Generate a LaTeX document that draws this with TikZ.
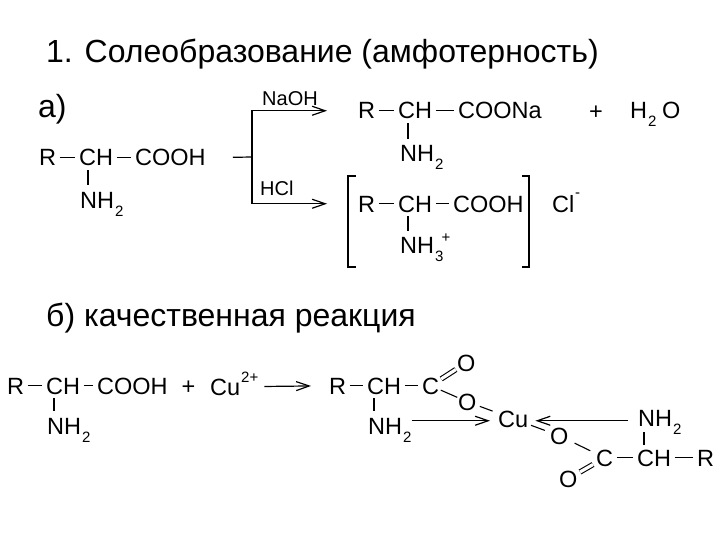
\documentclass[tikz,border=0pt]{standalone}
\usepackage{fontspec}
\setmainfont{Liberation Sans}
\usetikzlibrary{arrows.meta}
\tikzset{>={Straight Barb[length=13pt,width=9pt]}}
\tikzset{chem/.style={inner sep=0pt,anchor=base west,text height=16.5pt,text depth=0pt,font=\fontsize{23.5}{23.5}\selectfont}}
\tikzset{small/.style={inner sep=0pt,anchor=base west,font=\fontsize{15}{15}\selectfont}}
\tikzset{lbl/.style={inner sep=0pt,anchor=base west,font=\fontsize{20}{20}\selectfont}}
\tikzset{head/.style={inner sep=0pt,anchor=base west,font=\fontsize{32}{32}\selectfont}}
\tikzset{bond/.style={line width=1.1pt,shorten <=3.5pt,shorten >=4.5pt}}
\tikzset{vbond/.style={line width=1.1pt,shorten <=4pt,shorten >=6.5pt}}
\tikzset{rxn/.style={line width=1.2pt,->}}
\newcommand{\subn}[1]{\hspace{1pt}\raisebox{-8pt}{\fontsize{15}{15}\selectfont #1}}

\begin{document}
\begin{tikzpicture}[x=1pt,y=-1pt]
    \useasboundingbox (0,0) rectangle (720,540);
    %headings
    \node[head] (title) at (46,63) {1. Солеобразование (амфотерность)};
    \node[head] (parta) at (38,118) {а)};
    \node[head] (partb) at (46,326) {б) качественная реакция};

    %starting acid, part a
    \node[chem] (r1) at (39,166) {R};
    \node[chem] (ch1) at (79,166) {CH};
    \node[chem] (cooh1) at (135,166) {COOH};
    \node[chem] (nh1) at (80,208) {NH\subn{2}};
    \coordinate (fork) at (252,157);

    %sodium salt
    \node[chem] (r2) at (358,119) {R};
    \node[chem] (ch2) at (398,119) {CH};
    \node[chem] (cooh2) at (458,119) {COONa};
    \node[chem] (nh2) at (400,162) {NH\subn{2}};
    \node[chem] (plus2) at (589,120) {+};
    \node[chem] (water) at (630,119) {H\subn{2}\hspace{5.5pt}O};
    \node[lbl] (naoh) at (262,106) {NaOH};

    %chloride
    \node[chem] (r3) at (358,212) {R};
    \node[chem] (ch3) at (398,212) {CH};
    \node[chem] (cooh3) at (453,212) {COOH};
    \node[chem] (nh3) at (400,254) {NH\subn{3}};
    \node[small] (nhplus) at (441.5,242) {+};
    \node[chem] (cl) at (552,212) {Cl};
    \node[small] (clminus) at (575,197.5) {-};
    \node[lbl] (hcl) at (260,196) {HCl};

    %starting acid, part b
    \node[chem] (r4) at (7,394) {R};
    \node[chem] (ch4) at (46,394) {CH};
    \node[chem] (cooh4) at (97,394) {COOH};
    \node[chem] (nh4) at (47,434) {NH\subn{2}};
    \node[chem] (plus4) at (181.5,394.5) {+};
    \node[chem] (cu4) at (210,395) {Cu};
    \node[small] (cucharge) at (241,382) {2+};

    %complex
    \node[chem] (r5) at (329,394) {R};
    \node[chem] (ch5) at (367,394) {CH};
    \node[chem] (c5) at (422,394) {C};
    \node[chem] (odbl5) at (457,371) {O};
    \node[chem] (o5) at (458,410) {O};
    \node[chem] (nh5) at (368,434) {NH\subn{2}};
    \node[chem] (cu5) at (498,427) {Cu};
    \node[chem] (o6) at (550,444) {O};
    \node[chem] (c6) at (596,466) {C};
    \node[chem] (odbl6) at (559,487) {O};
    \node[chem] (ch6) at (637,466) {CH};
    \node[chem] (r6) at (697,466) {R};
    \node[chem] (nh6) at (638,426) {NH\subn{2}};

    %bonds
    \foreach \from/\to in {r1/ch1, ch1/cooh1, r2/ch2, ch2/cooh2, r3/ch3, ch3/cooh3, r4/ch4, ch4/cooh4, r5/ch5, ch5/c5, c6/ch6, ch6/r6}
    {\draw[bond] (\from) -- (\to);}
    \foreach \from/\to/\dx in {ch1/nh1/9, ch2/nh2/10, ch3/nh3/10, ch4/nh4/8, ch5/nh5/7}
    {\draw[vbond] ([xshift=\dx pt]\from.south west) -- ([xshift=\dx pt]\from.south west |- \to.north);}
    \draw[line width=1.1pt,shorten <=4.5pt,shorten >=6pt] ([xshift=7pt]ch6.north west) -- ([xshift=7pt]ch6.north west |- nh6.south);

    \draw[line width=1.1pt,double,double distance=3.2pt,shorten <=12.5pt,shorten >=12.5pt] (c5.center) -- (odbl5.center);
    \draw[line width=1.1pt,double,double distance=3.2pt,shorten <=13.5pt,shorten >=13.5pt] (c6.center) -- (odbl6.center);
    \draw[line width=1.1pt,shorten <=11pt,shorten >=11pt] (c5.center) -- (o5.center);
    \draw[line width=1.1pt,shorten <=13.3pt,shorten >=22pt] (o5.center) -- (cu5.center);
    \draw[line width=1.1pt,shorten <=19pt,shorten >=15.5pt] (cu5.center) -- (o6.center);
    \draw[line width=1.1pt,shorten <=17pt,shorten >=16pt] (o6.center) -- (c6.center);

    %reaction arrows
    \draw[line width=1.2pt,shorten <=27pt] (cooh1.east) -- (fork);
    \draw[rxn,shorten >=31pt] (fork) |- (r2.west);
    \draw[rxn,shorten >=31pt] (fork) |- (r3.west);
    \draw[rxn,shorten <=24pt,shorten >=18pt] (cu4.east) -- (r5.west);
    \draw[rxn] ([yshift=5pt]nh5.east) -- ([yshift=-2pt,xshift=-8pt]cu5.west);
    \draw[rxn] ([yshift=-3pt,xshift=-10pt]nh6.west) -- ([yshift=-2pt,xshift=7pt]cu5.east);

    %brackets
    \draw[line width=1.1pt] (356,176) -| (348,267) -- (356,267);
    \draw[line width=1.1pt] (522,176) -| (529,267) -- (522,267);
\end{tikzpicture}
\end{document}
